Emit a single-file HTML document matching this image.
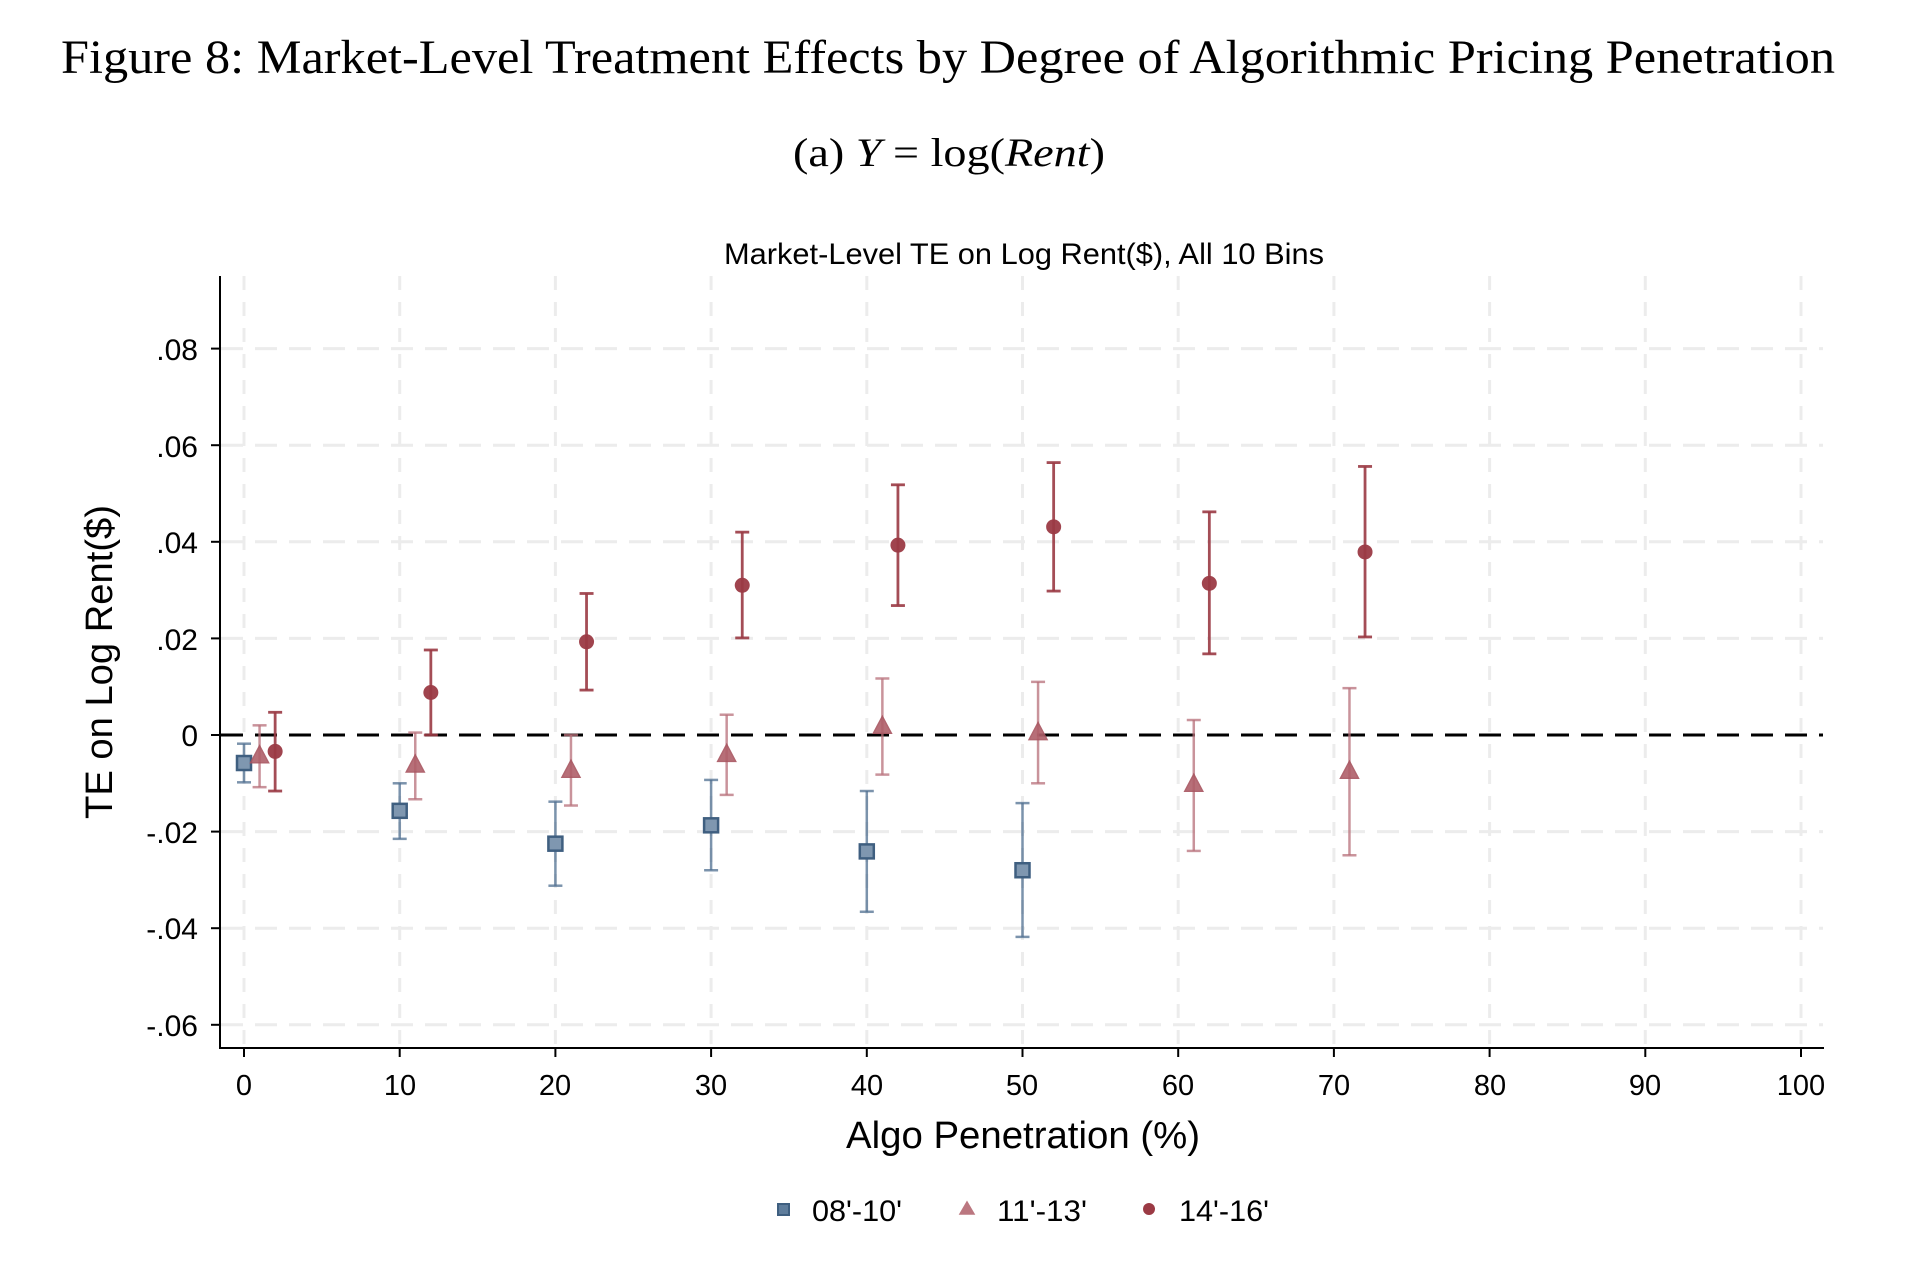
<!DOCTYPE html>
<html><head><meta charset="utf-8"><style>
html,body{margin:0;padding:0;background:#fff;}
svg{display:block;}
</style></head><body>
<svg id="s" width="1914" height="1268" xmlns="http://www.w3.org/2000/svg">
<rect width="1914" height="1268" fill="#fff"/>
<text x="61" y="73" textLength="1774" lengthAdjust="spacingAndGlyphs" font-family="Liberation Serif, serif" font-size="48">Figure 8: Market-Level Treatment Effects by Degree of Algorithmic Pricing Penetration</text>
<text x="793" y="166" textLength="312" lengthAdjust="spacingAndGlyphs" font-family="Liberation Serif, serif" font-size="40">(a) <tspan font-style="italic">Y</tspan> = log(<tspan font-style="italic">Rent</tspan>)</text>
<text x="1024" y="264" text-anchor="middle" textLength="600" lengthAdjust="spacingAndGlyphs" font-family="Liberation Sans, sans-serif" font-size="30">Market-Level TE on Log Rent($), All 10 Bins</text>
<g id="grid"></g>
<g id="axes" stroke="#000" stroke-width="2"></g>
<g font-family="Liberation Sans, sans-serif" font-size="30" text-anchor="end">
<text x="198" y="360">.08</text><text x="198" y="457">.06</text><text x="198" y="553">.04</text>
<text x="198" y="650">.02</text><text x="198" y="746">0</text><text x="198" y="843">-.02</text>
<text x="198" y="939">-.04</text><text x="198" y="1036">-.06</text>
</g>
<g font-family="Liberation Sans, sans-serif" font-size="29" text-anchor="middle">
<text x="244" y="1095">0</text><text x="400" y="1095">10</text><text x="555" y="1095">20</text>
<text x="711" y="1095">30</text><text x="867" y="1095">40</text><text x="1022" y="1095">50</text>
<text x="1178" y="1095">60</text><text x="1334" y="1095">70</text><text x="1490" y="1095">80</text>
<text x="1645" y="1095">90</text><text x="1801" y="1095">100</text>
</g>
<text x="1023" y="1148" text-anchor="middle" textLength="354" lengthAdjust="spacingAndGlyphs" font-family="Liberation Sans, sans-serif" font-size="38">Algo Penetration (%)</text>
<text transform="translate(112,662) rotate(-90)" text-anchor="middle" textLength="314" lengthAdjust="spacingAndGlyphs" font-family="Liberation Sans, sans-serif" font-size="38">TE on Log Rent($)</text>
<g id="data"></g>
<g font-family="Liberation Sans, sans-serif" font-size="30">
<rect x="778" y="1204" width="11" height="11" fill="#5f7d9c" stroke="#3f5f80" stroke-width="2"/>
<text x="812" y="1221" textLength="90" lengthAdjust="spacingAndGlyphs">08'-10'</text>
<polygon points="967,1202 974,1214 960,1214" fill="#b0606a" stroke="#b0606a" stroke-width="1.5" opacity="0.85"/>
<text x="997" y="1221" textLength="90" lengthAdjust="spacingAndGlyphs">11'-13'</text>
<circle cx="1149" cy="1209" r="6" fill="#9b3a44"/>
<text x="1179" y="1221" textLength="90" lengthAdjust="spacingAndGlyphs">14'-16'</text>
</g>
</svg>
<script>
var NS="http://www.w3.org/2000/svg";
function el(p,t,a){var e=document.createElementNS(NS,t);for(var k in a)e.setAttribute(k,a[k]);p.appendChild(e);return e;}
var X=function(v){return 244+15.57*v;}, Y=function(v){return 735-4830*v;};
var g=document.getElementById('grid');
for(var i=0;i<=10;i++){var x=X(i*10);el(g,'line',{x1:x,x2:x,y1:276,y2:1048,stroke:'#ececec','stroke-width':3,'stroke-dasharray':'14 12'});}
for(var j=-3;j<=4;j++){var y=Y(j*0.02);el(g,'line',{x1:221,x2:1823,y1:y,y2:y,stroke:'#ececec','stroke-width':3,'stroke-dasharray':'22 12'});}
var a=document.getElementById('axes');
el(a,'line',{x1:220,x2:220,y1:276,y2:1049});
el(a,'line',{x1:219,x2:1824,y1:1048,y2:1048});
for(var j=-3;j<=4;j++){var y=Y(j*0.02);el(a,'line',{x1:211,x2:220,y1:y,y2:y});}
for(var i=0;i<=10;i++){var x=X(i*10);el(a,'line',{x1:x,x2:x,y1:1048,y2:1057});}
var d=document.getElementById('data');
el(d,'line',{x1:221,x2:1823,y1:735,y2:735,stroke:'#000','stroke-width':3,'stroke-dasharray':'22 12'});
var blue=[[0,-0.0058,-0.0098,-0.0018],[10,-0.0157,-0.0215,-0.0100],[20,-0.0225,-0.0312,-0.0138],[30,-0.0187,-0.0280,-0.0093],[40,-0.0241,-0.0366,-0.0116],[50,-0.0280,-0.0418,-0.0141]];
var tri=[[1,-0.0043,-0.0108,0.0020],[11,-0.0062,-0.0133,0.0005],[21,-0.0073,-0.0146,0.0000],[31,-0.0040,-0.0124,0.0042],[41,0.0018,-0.0082,0.0117],[51,0.0005,-0.0100,0.0110],[61,-0.0102,-0.0240,0.0031],[71,-0.0075,-0.0249,0.0097]];
var cir=[[2,-0.0034,-0.0116,0.0047],[12,0.0088,0.0000,0.0176],[22,0.0193,0.0093,0.0293],[32,0.0310,0.0201,0.0420],[42,0.0393,0.0268,0.0518],[52,0.0431,0.0298,0.0564],[62,0.0314,0.0168,0.0462],[72,0.0379,0.0203,0.0556]];
function bar(p,c,op,w){var x=X(p[0]);var y1=Y(p[2]),y2=Y(p[3]);
el(d,'line',{x1:x,x2:x,y1:y1,y2:y2,stroke:c,'stroke-width':w,opacity:op});
el(d,'line',{x1:x-7,x2:x+7,y1:y1,y2:y1,stroke:c,'stroke-width':w,opacity:op});
el(d,'line',{x1:x-7,x2:x+7,y1:y2,y2:y2,stroke:c,'stroke-width':w,opacity:op});}
blue.forEach(function(p){bar(p,'#4f6f91',0.75,2.5);var x=X(p[0]),y=Y(p[1]);el(d,'rect',{x:x-7,y:y-7,width:14,height:14,fill:'#7f97b0',stroke:'#3f5f80','stroke-width':2.5});});
tri.forEach(function(p){bar(p,'#b8707a',0.75,2.5);var x=X(p[0]),y=Y(p[1]);el(d,'polygon',{points:(x)+','+(y-10)+' '+(x+9)+','+(y+7)+' '+(x-9)+','+(y+7),fill:'#b0606a',stroke:'#a85560','stroke-width':1.5,opacity:0.9});});
cir.forEach(function(p){bar(p,'#9b3a44',0.9,2.8);var x=X(p[0]),y=Y(p[1]);el(d,'circle',{cx:x,cy:y,r:7.5,fill:'#9b3a44',opacity:0.95});});
</script>
</body></html>
